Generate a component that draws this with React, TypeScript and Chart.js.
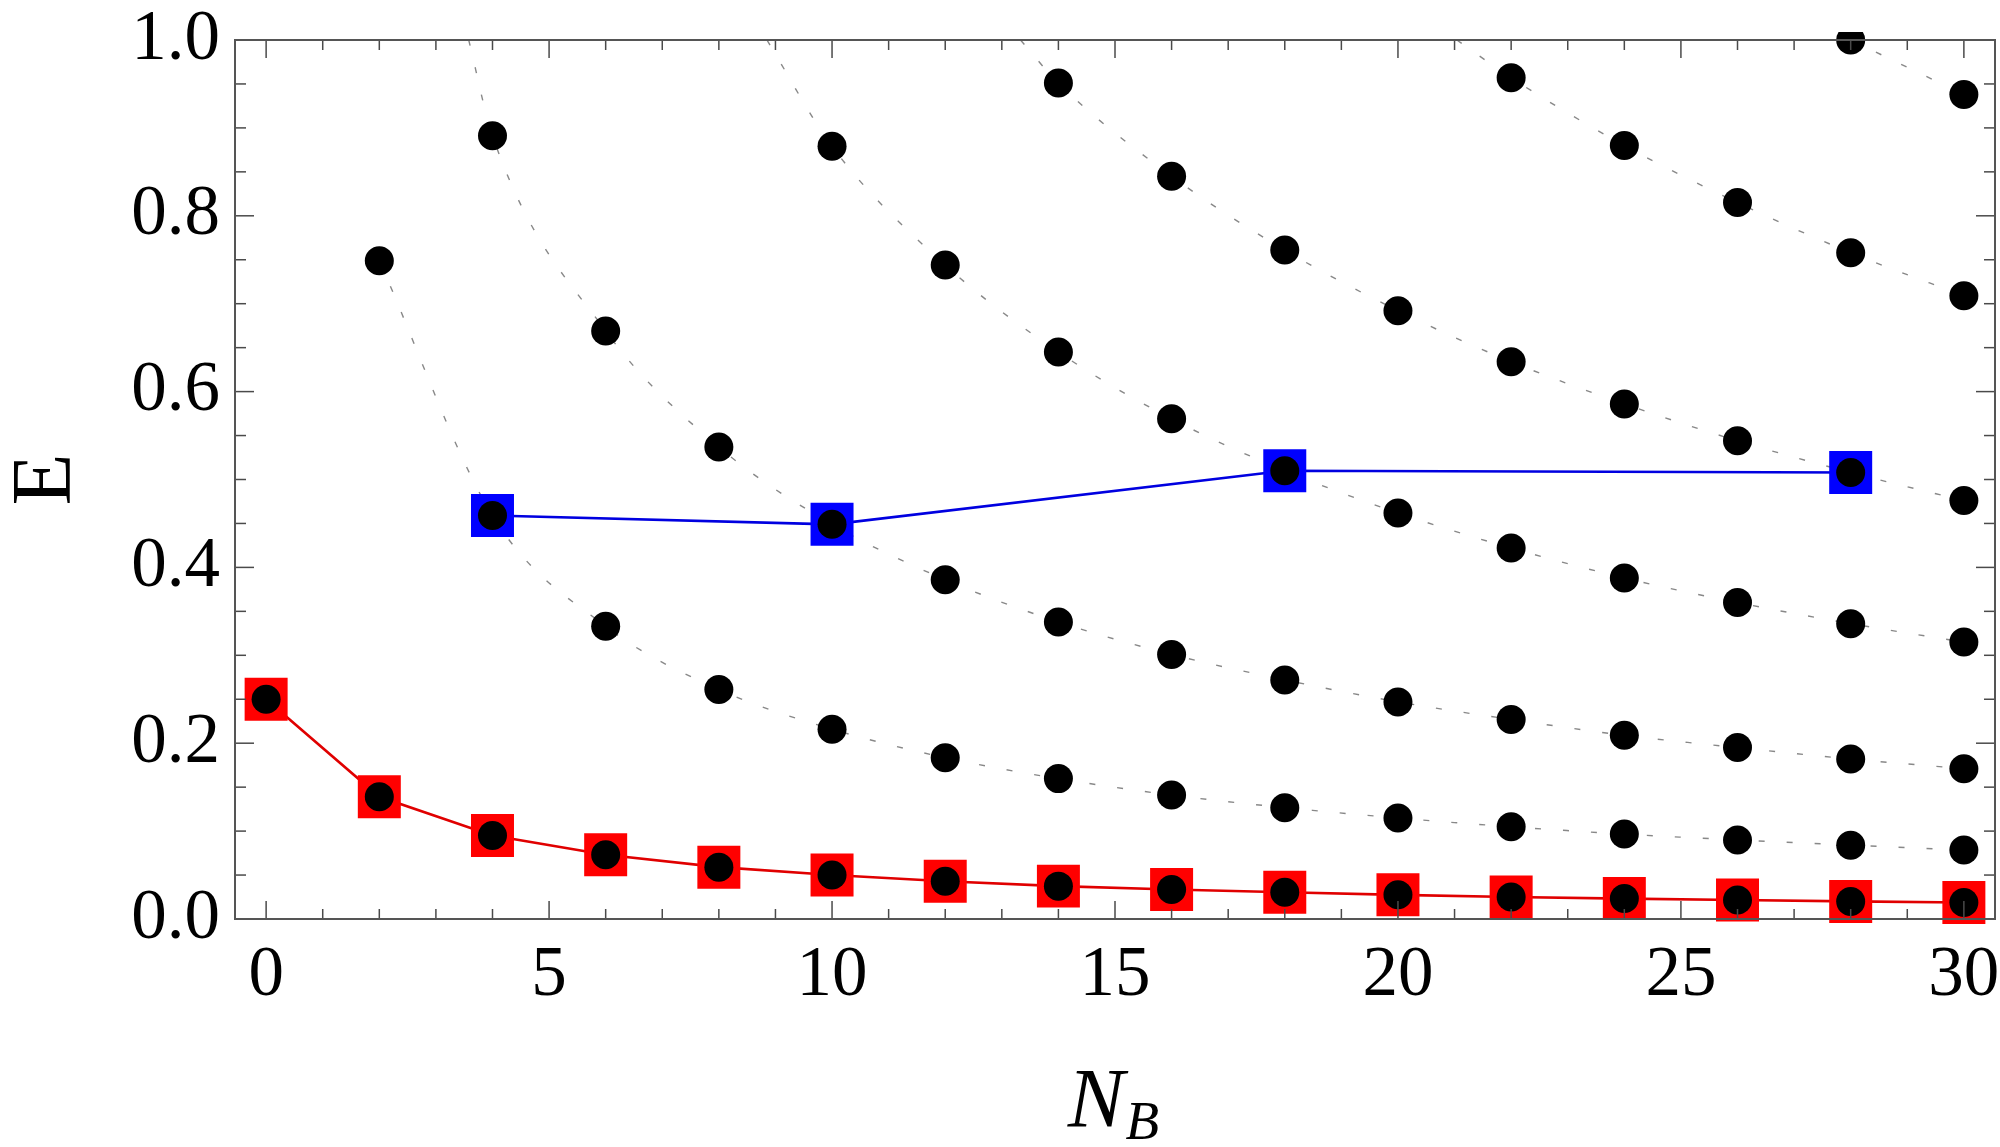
import React, { useEffect, useRef } from "react";
import { Chart, registerables } from "chart.js";

Chart.register(...registerables);

// ---------------- data ----------------
const groundN = [0, 2, 4, 6, 8, 10, 12, 14, 16, 18, 20, 22, 24, 26, 28, 30];
const groundE = [0.25, 0.139, 0.095, 0.073, 0.059, 0.05, 0.043, 0.0374, 0.0335, 0.0304, 0.0275, 0.0251, 0.0232, 0.0216, 0.02, 0.0188];

const blueN = [4, 10, 18, 28];
const blueE = [0.459, 0.449, 0.51, 0.508];

const bandAN = [2, 4, 6, 8, 10, 12, 14, 16, 18, 20, 22, 24, 26, 28, 30];
const bandAE = [0.749, 0.459, 0.333, 0.261, 0.216, 0.1835, 0.1597, 0.141, 0.1267, 0.1149, 0.1049, 0.0966, 0.0899, 0.084, 0.0784];

const bandBN = [4, 6, 8, 10, 12, 14, 16, 18, 20, 22, 24, 26, 28, 30];
const bandBE = [0.891, 0.669, 0.537, 0.449, 0.386, 0.338, 0.301, 0.272, 0.247, 0.227, 0.209, 0.195, 0.182, 0.171];

const bandCN = [10, 12, 14, 16, 18, 20, 22, 24, 26, 28, 30];
const bandCE = [0.879, 0.744, 0.645, 0.569, 0.51, 0.462, 0.422, 0.388, 0.36, 0.336, 0.315];

const bandDN = [14, 16, 18, 20, 22, 24, 26, 28, 30];
const bandDE = [0.951, 0.845, 0.761, 0.692, 0.634, 0.586, 0.544, 0.508, 0.476];

const bandEN = [22, 24, 26, 28, 30];
const bandEE = [0.957, 0.88, 0.815, 0.758, 0.709];

const bandFN = [28, 30];
const bandFE = [1.0, 0.938];

// where each dotted guide curve leaves the top of the frame (E = 1.0)
const guideTopN = [NaN, 3.58, 8.85, 13.33, 21.04, NaN];

const xMin = -0.55;
const xMax = 30.55;
const yMin = 0;
const yMax = 1;

// ---------------------------------------------------------------
const SERIF = '"Liberation Serif", "Times New Roman", serif';

const toPts = (xs: number[], ys: number[]) => xs.map((x, i) => ({ x, y: ys[i] }));

const frameTicksPlugin = {
  id: "frameTicks",
  afterDatasetsDraw(chart: any) {
    const { ctx, chartArea: a, scales } = chart;
    const xs = scales.x;
    const ys = scales.y;
    ctx.save();
    ctx.strokeStyle = "#4a4a4a";
    ctx.lineWidth = 1.5;
    const line = (x1: number, y1: number, x2: number, y2: number) => {
      ctx.beginPath();
      ctx.moveTo(x1, y1);
      ctx.lineTo(x2, y2);
      ctx.stroke();
    };
    for (let v = 0; v <= 30; v++) {
      const px = xs.getPixelForValue(v);
      const L = v % 5 === 0 ? 18 : 10;
      line(px, a.bottom, px, a.bottom - L);
      line(px, a.top, px, a.top + L);
    }
    for (let k = 0; k <= 20; k++) {
      const py = ys.getPixelForValue(k * 0.05);
      const L = k % 4 === 0 ? 19 : 11;
      line(a.left, py, a.left + L, py);
      line(a.right, py, a.right - L, py);
    }
    ctx.lineWidth = 2;
    ctx.strokeStyle = "#555";
    ctx.strokeRect(a.left, a.top, a.right - a.left, a.bottom - a.top);
    ctx.restore();
  },
};

const titlesPlugin = {
  id: "axisTitles",
  afterDraw(chart: any) {
    const { ctx, chartArea: a } = chart;
    ctx.save();
    ctx.fillStyle = "#000";
    ctx.translate(48, (a.top + a.bottom) / 2);
    ctx.rotate(-Math.PI / 2);
    ctx.font = `85px ${SERIF}`;
    ctx.textAlign = "center";
    ctx.textBaseline = "middle";
    ctx.fillText("E", 0, 0);
    ctx.restore();

    ctx.save();
    ctx.fillStyle = "#000";
    ctx.textAlign = "left";
    ctx.textBaseline = "alphabetic";
    ctx.font = `italic 85px ${SERIF}`;
    const nW = ctx.measureText("N").width;
    ctx.font = `italic 55px ${SERIF}`;
    const bW = ctx.measureText("B").width;
    const cx = (a.left + a.right) / 2;
    const x0 = cx - (nW + bW) / 2 - 2;
    ctx.font = `italic 85px ${SERIF}`;
    ctx.fillText("N", x0, 1127);
    ctx.font = `italic 55px ${SERIF}`;
    ctx.fillText("B", x0 + nW + 1, 1139);
    ctx.restore();
  },
};

export default function App() {
  const canvasRef = useRef<HTMLCanvasElement | null>(null);

  useEffect(() => {
    const canvas = canvasRef.current;
    if (!canvas) return;

    const bandsN = [groundN, bandAN, bandBN, bandCN, bandDN, bandEN, bandFN];
    const bandsE = [groundE, bandAE, bandBE, bandCE, bandDE, bandEE, bandFE];

    const guideSets: any[] = bandsN.slice(1).map((ns, i) => {
      const pts = toPts(ns, bandsE[i + 1]);
      if (!isNaN(guideTopN[i])) pts.unshift({ x: guideTopN[i], y: yMax });
      return {
        type: "line",
        data: pts,
        borderColor: "rgba(115,115,115,0.85)",
        borderWidth: 1.4,
        borderDash: [6, 22],
        pointRadius: 0,
        showLine: true,
        fill: false,
        cubicInterpolationMode: "monotone",
        order: 10,
      };
    });

    const dotSets: any[] = bandsN.map((ns, i) => ({
      type: "line",
      data: toPts(ns, bandsE[i]),
      showLine: false,
      pointStyle: "circle",
      pointRadius: 14.5,
      pointBackgroundColor: "#000",
      pointBorderColor: "#000",
      pointBorderWidth: 0,
      clip: { left: 8, top: 8, right: 8, bottom: 12 },
      order: 0,
    }));

    const chart = new Chart(canvas, {
      type: "scatter",
      data: {
        datasets: [
          ...dotSets,
          {
            type: "line",
            data: toPts(blueN, blueE),
            borderColor: "#0000e0",
            borderWidth: 2.6,
            showLine: true,
            pointStyle: "rect",
            pointRadius: 30.4,
            pointBackgroundColor: "#0000ff",
            pointBorderWidth: 0,
            clip: { left: 8, top: 8, right: 8, bottom: 8 },
            order: 2,
          } as any,
          {
            type: "line",
            data: toPts(groundN, groundE),
            borderColor: "#e00000",
            borderWidth: 2.6,
            showLine: true,
            pointStyle: "rect",
            pointRadius: 30.4,
            pointBackgroundColor: "#ff0000",
            pointBorderWidth: 0,
            clip: { left: 8, top: 8, right: 8, bottom: 12 },
            order: 3,
          } as any,
          ...guideSets,
        ],
      },
      options: {
        animation: false,
        responsive: true,
        maintainAspectRatio: false,
        devicePixelRatio: 1,
        layout: { autoPadding: false, padding: { left: 0, right: 5, top: 40, bottom: 0 } },
        plugins: {
          legend: { display: false },
          tooltip: { enabled: false },
          title: { display: false },
        },
        elements: { line: { tension: 0 } },
        scales: {
          x: {
            type: "linear",
            min: xMin,
            max: xMax,
            grid: { display: false, drawTicks: false },
            border: { display: false },
            ticks: {
              stepSize: 5,
              includeBounds: false,
              autoSkip: false,
              maxRotation: 0,
              padding: 15,
              color: "#000",
              font: { family: SERIF, size: 71 },
              callback: (v: any) => String(Math.round(Number(v))),
            },
            afterFit: (s: any) => {
              s.height = 228;
              s.paddingLeft = 0;
              s.paddingRight = 0;
            },
          },
          y: {
            type: "linear",
            min: yMin,
            max: yMax,
            grid: { display: false, drawTicks: false },
            border: { display: false },
            ticks: {
              stepSize: 0.2,
              autoSkip: false,
              padding: 15,
              color: "#000",
              font: { family: SERIF, size: 71 },
              callback: (v: any) => Number(v).toFixed(1),
            },
            afterFit: (s: any) => {
              s.width = 235;
              s.paddingTop = 0;
              s.paddingBottom = 0;
            },
          },
        },
      } as any,
      plugins: [frameTicksPlugin, titlesPlugin],
    });

    return () => chart.destroy();
  }, []);

  return (
    <div style={{ position: "fixed", left: 0, top: 0, width: 2000, height: 1147, background: "#fff" }}>
      <canvas ref={canvasRef} />
    </div>
  );
}
